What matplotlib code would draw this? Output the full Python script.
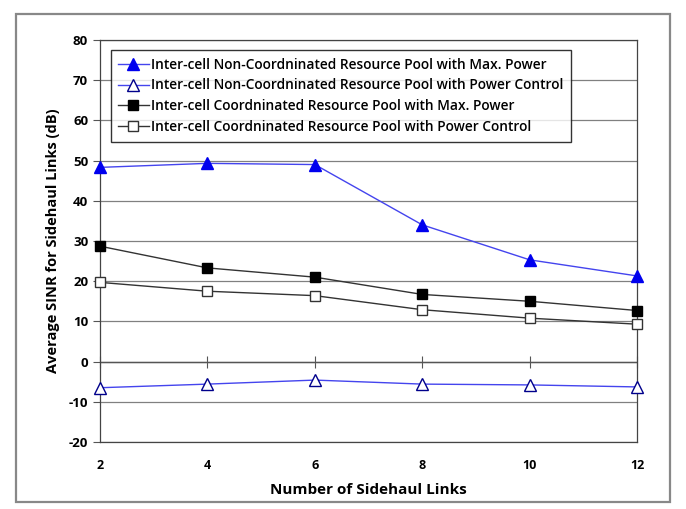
import numpy as np
import matplotlib.pyplot as plt
from matplotlib.patches import Rectangle

# Datos
links = [2, 4, 6, 8, 10, 12]
noncoord_max = [48.3, 49.3, 49.0, 34.0, 25.3, 21.3]
noncoord_pc = [-6.5, -5.6, -4.6, -5.6, -5.8, -6.3]
coord_max = [28.7, 23.3, 21.0, 16.7, 15.0, 12.7]
coord_pc = [19.7, 17.5, 16.4, 12.9, 10.8, 9.3]

labels = [
    'Inter-cell Non-Coordninated Resource Pool with Max. Power',
    'Inter-cell Non-Coordninated Resource Pool with Power Control',
    'Inter-cell Coordninated Resource Pool with Max. Power',
    'Inter-cell Coordninated Resource Pool with Power Control',
]

plt.rcParams['font.family'] = ['Open Sans', 'DejaVu Sans']
plt.rcParams['axes.unicode_minus'] = False

fig = plt.figure(figsize=(6.86, 5.09), dpi=100)
ax = fig.add_axes([0.1458, 0.1316, 0.783, 0.790])

# marco exterior de la figura
fig.patches.append(Rectangle((0.0233, 0.0138), 0.953, 0.959, transform=fig.transFigure,
                             fill=False, edgecolor='#888888', linewidth=1.6))

blue = '#0000ee'
ax.plot(links, noncoord_max, color='#4444ee', linewidth=1, marker='^', markersize=8,
        markerfacecolor=blue, markeredgecolor=blue, label=labels[0], zorder=3, clip_on=False)
ax.plot(links, noncoord_pc, color='#4444ee', linewidth=1, marker='^', markersize=8,
        markerfacecolor='white', markeredgecolor='#00008b', label=labels[1], zorder=3, clip_on=False)
ax.plot(links, coord_max, color='#333333', linewidth=1, marker='s', markersize=7,
        markerfacecolor='black', markeredgecolor='black', label=labels[2], zorder=3, clip_on=False)
ax.plot(links, coord_pc, color='#333333', linewidth=1, marker='s', markersize=7,
        markerfacecolor='white', markeredgecolor='#333333', label=labels[3], zorder=3, clip_on=False)

ax.set_xlim(2, 12)
ax.set_ylim(-20, 80)
ax.set_yticks(np.arange(-20, 81, 10))
ax.set_xticks(links)
ax.yaxis.grid(True, color='#808080', linewidth=0.9)
ax.set_axisbelow(True)
ax.axhline(0, color='#555555', linewidth=1, zorder=1)
for s in ax.spines.values():
    s.set_color('#444444')
    s.set_linewidth(0.9)

ax.tick_params(axis='x', length=0, pad=12, labelsize=9)
ax.tick_params(axis='y', length=5, labelsize=9.5, color='#555555')
for t in ax.get_xticklabels() + ax.get_yticklabels():
    t.set_fontweight('bold')

# marcas del eje x en y = 0
sec = ax.secondary_xaxis(0.2)
sec.set_xticks(links)
sec.tick_params(direction='inout', length=8, labelbottom=False, color='#555555')
sec.spines['bottom'].set_visible(False)

ax.set_xlabel('Number of Sidehaul Links', fontsize=11, fontweight='bold', labelpad=8)
ax.set_ylabel('Average SINR for Sidehaul Links (dB)', fontsize=10.5, fontweight='bold', labelpad=6)

leg = ax.legend(loc='upper left', bbox_to_anchor=(0.02, 0.975), fontsize=9.9, frameon=True,
                fancybox=False, edgecolor='black', handlelength=2.2, handletextpad=0.2,
                borderpad=0.55, labelspacing=0.5, borderaxespad=0)
leg.get_frame().set_linewidth(1)
for t in leg.get_texts():
    t.set_fontweight('semibold')

plt.savefig('out.png', dpi=100)
plt.close()
